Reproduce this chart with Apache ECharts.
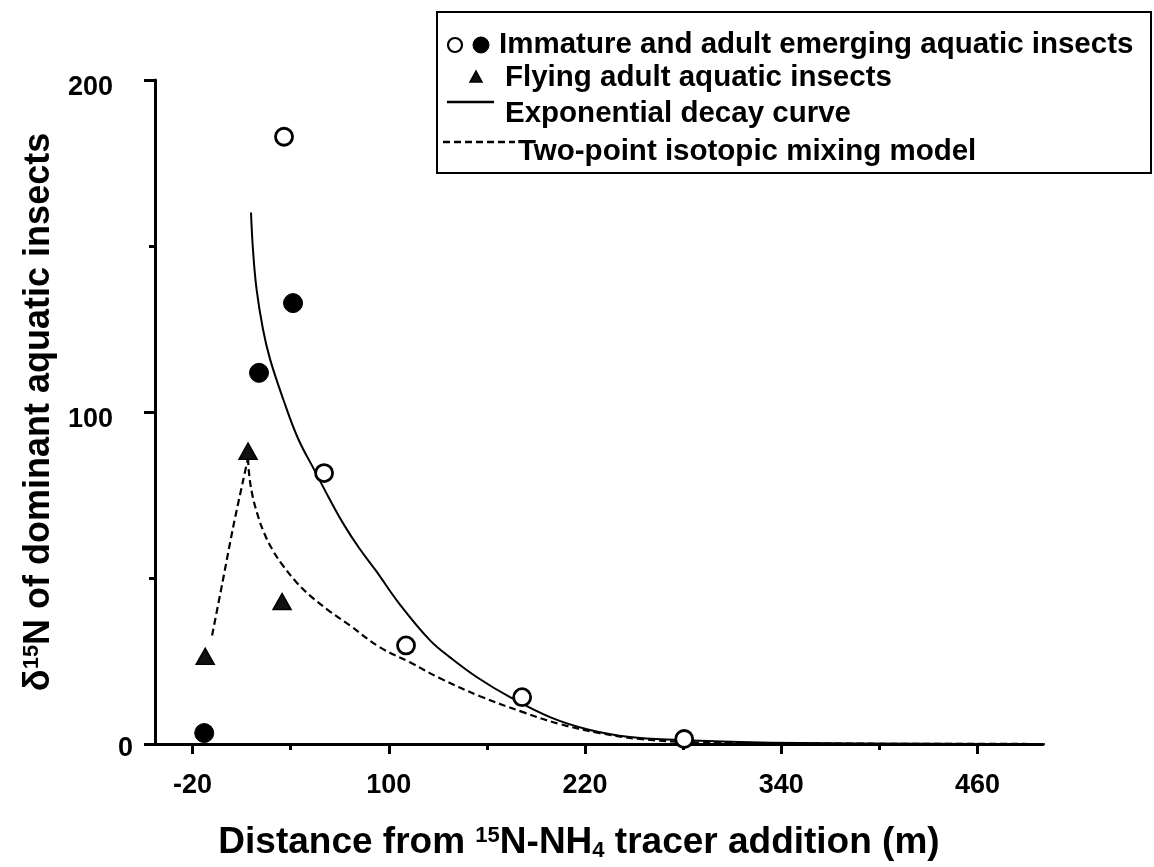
<!DOCTYPE html>
<html>
<head>
<meta charset="utf-8">
<script src="https://cdn.jsdelivr.net/npm/echarts@6/dist/echarts.min.js"></script>
<style>
html,body{margin:0;padding:0;background:#fff;}
#chart{width:1154px;height:867px;}
</style>
</head>
<body>
<div id="chart"></div>
<script>
// ---- data ----
var openCircleX = [35.9, 60.4, 110.5, 181.5, 280.6];
var openCircleY = [182.9, 81.6, 29.7, 14.1, 1.5];
var filledCircleX = [-12.9, 20.6, 41.4];
var filledCircleY = [3.3, 111.8, 132.8];
var triangleX = [-12.3, 13.9, 34.7];
var triangleY = [26.4, 88.2, 42.9];
var decayX = [15.7, 16.9, 19.1, 23.0, 27.3, 35.3, 44.4, 54.8, 63.4, 72.6, 81.7, 92.1, 106.8, 125.2, 137.4, 153.9, 174.1, 198.5, 223.0, 247.4, 278.0, 314.7, 351.4, 465.7];
var decayY = [160.1, 149.0, 137.0, 125.0, 116.0, 104.0, 92.1, 82.2, 74.1, 66.0, 59.1, 52.2, 42.0, 31.2, 26.1, 20.1, 14.1, 8.1, 4.2, 2.1, 1.2, 0.6, 0.3, 0];
var mixRiseX = [-8.1, -2.0, 4.7, 10.8, 13.9];
var mixRiseY = [32.7, 48.0, 65.1, 79.2, 86.1];
var mixFallX = [13.9, 14.5, 16.3, 19.4, 23.7, 29.2, 35.3, 43.2, 51.8, 64.0, 76.2, 94.6, 112.9, 131.3, 155.7, 182.0, 204.6, 229.1, 253.6, 290.3, 351.4, 511.6];
var mixFallY = [86.1, 81.6, 75.6, 69.6, 63.6, 58.2, 53.7, 48.9, 44.7, 39.9, 35.7, 29.1, 24.6, 19.8, 14.4, 9.6, 6.0, 3.3, 1.5, 0.45, 0.15, 0];
var xTickLabels = [-20, 100, 220, 340, 460];
var xMinorTicks = [40, 160, 280, 400];
var yTickLabels = [100, 200];
var yZeroLabel = [0];
var legendLabels = ['Immature and adult emerging aquatic insects', 'Flying adult aquatic insects', 'Exponential decay curve', 'Two-point isotopic mixing model'];

function zip(xs, ys) { return xs.map(function (x, i) { return [x, ys[i]]; }); }

var FONT = "'Liberation Sans',Arial,Helvetica,sans-serif";
var chart = echarts.init(document.getElementById('chart'), null, {renderer: 'canvas'});

var xMin = -43, xMax = 500;
var dashStyle = {color: '#000', width: 2.2, type: [7, 4]};

var option = {
  animation: false,
  backgroundColor: '#fff',
  grid: {left: 155, right: 111, top: 80, bottom: 120, containLabel: false},
  xAxis: [{
    type: 'value', min: xMin, max: xMax, position: 'bottom',
    axisLine: {show: true, onZero: false, lineStyle: {color: '#000', width: 3}},
    axisTick: {show: true, customValues: xTickLabels, length: 10, lineStyle: {color: '#000', width: 3}},
    axisLabel: {show: true, customValues: xTickLabels, margin: 28, color: '#000', fontWeight: 'bold', fontSize: 27, fontFamily: FONT},
    splitLine: {show: false},
    name: 'Distance from {sup|15}N-NH{sub|4} tracer addition (m)',
    nameLocation: 'middle', nameGap: 80,
    nameTextStyle: {color: '#000', fontWeight: 'bold', fontSize: 37, fontFamily: FONT, padding: [0, 40, 0, 0],
      rich: {sup: {fontSize: 22, fontWeight: 'bold', fontFamily: FONT, color: '#000', padding: [0, 0, 14, 0]},
             sub: {fontSize: 22, fontWeight: 'bold', fontFamily: FONT, color: '#000', padding: [16, 0, 0, 0]}}}
  }, {
    type: 'value', min: xMin, max: xMax, position: 'bottom',
    axisLine: {show: false},
    axisTick: {show: true, customValues: xMinorTicks, length: 6, lineStyle: {color: '#000', width: 3}},
    axisLabel: {show: false},
    splitLine: {show: false}
  }],
  yAxis: [{
    type: 'value', min: 0, max: 200, interval: 100, position: 'left',
    axisLine: {show: true, onZero: false, lineStyle: {color: '#000', width: 3}},
    axisTick: {show: true, length: 11, lineStyle: {color: '#000', width: 3}},
    minorTick: {show: true, splitNumber: 2, length: 6, lineStyle: {color: '#000', width: 3}},
    axisLabel: {show: true, customValues: yTickLabels, margin: 42, color: '#000', fontWeight: 'bold', fontSize: 27, fontFamily: FONT,
      verticalAlign: 'top', lineHeight: 16},
    splitLine: {show: false},
    name: 'δ{sup|15}N of dominant aquatic insects',
    nameLocation: 'middle', nameGap: 86, nameRotate: 90,
    nameTextStyle: {color: '#000', fontWeight: 'bold', fontSize: 36, fontFamily: FONT,
      rich: {sup: {fontSize: 22, fontWeight: 'bold', fontFamily: FONT, color: '#000', padding: [0, 0, 14, 0]}}}
  }, {
    type: 'value', min: 0, max: 200, position: 'left',
    axisLine: {show: false}, axisTick: {show: false},
    axisLabel: {show: true, customValues: yZeroLabel, margin: 22, color: '#000', fontWeight: 'bold', fontSize: 27, fontFamily: FONT,
      verticalAlign: 'top', lineHeight: 10},
    splitLine: {show: false}
  }],
  series: [{
    name: legendLabels[2], type: 'line', data: zip(decayX, decayY), smooth: 0.4,
    showSymbol: false, symbol: 'none', clip: false,
    lineStyle: {color: '#000', width: 2}, z: 2
  }, {
    name: legendLabels[3], type: 'line', data: zip(mixRiseX, mixRiseY), smooth: 0.3,
    showSymbol: false, symbol: 'none', clip: false,
    lineStyle: dashStyle, z: 2
  }, {
    name: legendLabels[3] + ' ', type: 'line', data: zip(mixFallX, mixFallY), smooth: 0.4,
    showSymbol: false, symbol: 'none', clip: false,
    lineStyle: dashStyle, z: 2
  }, {
    name: legendLabels[0] + ' (open)', type: 'scatter', data: zip(openCircleX, openCircleY),
    symbol: 'circle', symbolSize: 17, clip: false,
    itemStyle: {color: '#fff', borderColor: '#000', borderWidth: 2.8, opacity: 1}, z: 5
  }, {
    name: legendLabels[0] + ' (filled)', type: 'scatter', data: zip(filledCircleX, filledCircleY),
    symbol: 'circle', symbolSize: 19, clip: false,
    itemStyle: {color: '#000', borderColor: '#000', borderWidth: 1, opacity: 1}, z: 5
  }, {
    name: legendLabels[1], type: 'scatter', data: zip(triangleX, triangleY),
    symbol: 'triangle', symbolSize: [18, 16], clip: false,
    itemStyle: {color: '#111', borderColor: '#000', borderWidth: 1.5, opacity: 1}, z: 5
  }],
  graphic: [
    {type: 'rect', shape: {x: 437, y: 12, width: 714, height: 161}, style: {fill: '#fff', stroke: '#000', lineWidth: 2}, z: 10},
    {type: 'circle', shape: {cx: 455, cy: 45, r: 7}, style: {fill: '#fff', stroke: '#000', lineWidth: 2.2}, z: 11},
    {type: 'circle', shape: {cx: 481, cy: 45, r: 8}, style: {fill: '#000', stroke: '#000', lineWidth: 1}, z: 11},
    {type: 'polygon', shape: {points: [[476, 71], [482, 82], [470, 82]]}, style: {fill: '#111', stroke: '#000', lineWidth: 1.5}, z: 11},
    {type: 'line', shape: {x1: 447, y1: 102, x2: 494, y2: 102}, style: {stroke: '#000', lineWidth: 2.5}, z: 11},
    {type: 'line', shape: {x1: 443, y1: 142, x2: 515, y2: 142}, style: {stroke: '#000', lineWidth: 2.5, lineDash: [7, 4]}, z: 11},
    {type: 'text', x: 499, y: 45, style: {text: legendLabels[0], fill: '#000', font: 'bold 29.5px ' + FONT, verticalAlign: 'middle'}, z: 11},
    {type: 'text', x: 505, y: 78, style: {text: legendLabels[1], fill: '#000', font: 'bold 29.5px ' + FONT, verticalAlign: 'middle'}, z: 11},
    {type: 'text', x: 505, y: 114, style: {text: legendLabels[2], fill: '#000', font: 'bold 29.5px ' + FONT, verticalAlign: 'middle'}, z: 11},
    {type: 'text', x: 518, y: 152, style: {text: legendLabels[3], fill: '#000', font: 'bold 29.5px ' + FONT, verticalAlign: 'middle'}, z: 11}
  ]
};
chart.setOption(option);
</script>
</body>
</html>
